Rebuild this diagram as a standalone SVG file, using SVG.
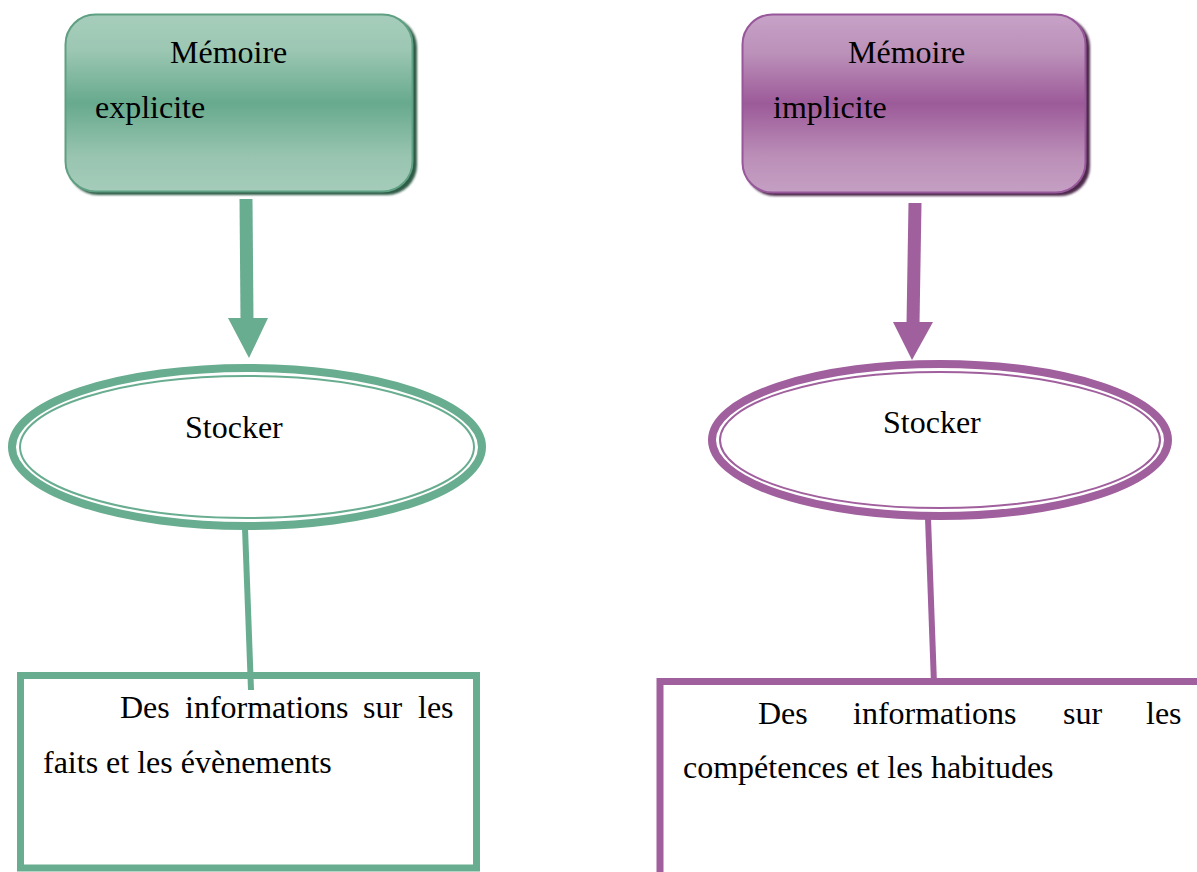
<svg xmlns="http://www.w3.org/2000/svg" width="1197" height="872" viewBox="0 0 1197 872">
<defs>
<linearGradient id="gGreen" x1="0" y1="0" x2="0" y2="1">
<stop offset="0" stop-color="#a6cdbb"/>
<stop offset="0.2" stop-color="#9cc7b3"/>
<stop offset="0.5" stop-color="#67aa8d"/>
<stop offset="0.8" stop-color="#98c4b0"/>
<stop offset="1" stop-color="#a5ccba"/>
</linearGradient>
<linearGradient id="gPurple" x1="0" y1="0" x2="0" y2="1">
<stop offset="0" stop-color="#c7a2c7"/>
<stop offset="0.22" stop-color="#bb90b9"/>
<stop offset="0.5" stop-color="#9c5a99"/>
<stop offset="0.8" stop-color="#bb8fb8"/>
<stop offset="1" stop-color="#c59fc3"/>
</linearGradient>
<filter id="sh" x="-10%" y="-10%" width="130%" height="130%">
<feGaussianBlur stdDeviation="1.2"/>
</filter>
</defs>
<style>
text{font-family:"Liberation Serif","Times New Roman",serif;font-size:32px;fill:#000}
.g{stroke:#69ad90}
.p{stroke:#a05f9d}
.gf{fill:#69ad90}
.pf{fill:#a05f9d}
</style>
<rect width="1197" height="872" fill="#fff"/>

<g id="connectors">
<path class="g" d="M246 199 L247 320" stroke-width="13" fill="none"/>
<polygon class="gf" points="228,318 268,318 249,358"/>
<path class="g" d="M245 528 L251 690" stroke-width="6" fill="none"/>
<path class="p" d="M915 203 L913 324" stroke-width="13" fill="none"/>
<polygon class="pf" points="893,322 933,322 912,360"/>
<path class="p" d="M928 518 L934 684" stroke-width="6" fill="none"/>
</g>

<g id="explicit">
<rect x="68" y="17" width="349" height="178" rx="30" fill="#2f5b47" filter="url(#sh)"/>
<rect x="65.5" y="14.5" width="347" height="177" rx="30" fill="url(#gGreen)" stroke="#5f9f82" stroke-width="2"/>
<text x="170" y="63">Mémoire</text>
<text x="95" y="118">explicite</text>
</g>

<g id="implicit">
<rect x="745" y="17" width="345" height="179" rx="30" fill="#4e2a4c" filter="url(#sh)"/>
<rect x="742.5" y="14.5" width="343" height="178" rx="30" fill="url(#gPurple)" stroke="#97579a" stroke-width="2"/>
<text x="848" y="63">Mémoire</text>
<text x="773" y="118">implicite</text>
</g>

<g id="stocker-left">
<ellipse cx="247" cy="447" rx="235" ry="79" fill="#fff" class="g" stroke-width="8"/>
<ellipse cx="247" cy="447" rx="227" ry="71" fill="none" class="g" stroke-width="2"/>
<text x="185" y="438">Stocker</text>
</g>

<g id="stocker-right">
<ellipse cx="940" cy="440" rx="228" ry="76" fill="#fff" class="p" stroke-width="8"/>
<ellipse cx="940" cy="440" rx="220" ry="68" fill="none" class="p" stroke-width="2"/>
<text x="883" y="433">Stocker</text>
</g>

<g id="info-left">
<rect x="20.5" y="675.5" width="456" height="192.5" fill="none" class="g" stroke-width="7"/>
<text x="120" y="718">Des</text>
<text x="185" y="718">informations</text>
<text x="363" y="718">sur</text>
<text x="418" y="718">les</text>
<text x="43" y="773">faits et les évènements</text>
</g>

<g id="info-right">
<path d="M660 872 L660 681.5 L1197 681.5" fill="none" class="p" stroke-width="7"/>
<text x="758" y="724">Des</text>
<text x="853" y="724">informations</text>
<text x="1063" y="724">sur</text>
<text x="1146" y="724">les</text>
<text x="683" y="778">compétences et les habitudes</text>
</g>
</svg>
